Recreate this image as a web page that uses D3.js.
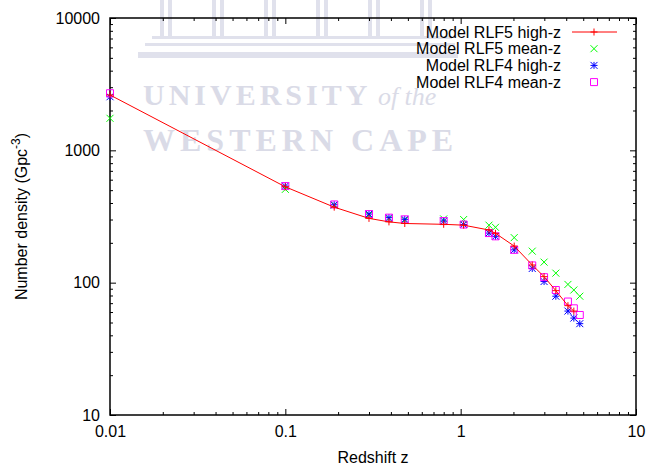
<!DOCTYPE html>
<html>
<head>
<meta charset="utf-8">
<script src="https://cdn.jsdelivr.net/npm/d3@7"></script>
<style>
  body { margin: 0; background: #fff; }
  svg { font-family: "Liberation Sans", Arial, sans-serif; }
</style>
</head>
<body>
<svg class="chart" width="648" height="467"></svg>
<script>
// redshift bins shared by all models
var zBins = [0.01, 0.1, 0.19, 0.30, 0.39, 0.48, 0.80, 1.04, 1.45, 1.58, 2.02, 2.56, 2.99, 3.49, 4.09, 4.42, 4.78];

// Number density (Gpc^-3)
var rlf5High = [2620, 530, 372, 306, 288, 280, 276, 272, 250, 236, 189, 136, 111, 87, 67, 61];
var rlf5Mean = [1746, 507, 385, 325, 305, 296, 303, 300, 272, 262, 219, 173, 143, 118, 97, 88, 79];
var rlf4High = [2540, 537, 388, 330, 310, 301, 292, 275, 237, 224, 177, 128, 102, 79, 61, 54, 49];
var rlf4Mean = [2700, 537, 390, 330, 310, 301, 292, 275, 237, 224, 177, 135, 110, 88, 72, 64, 57];

var legendLabels = ["Model RLF5 high-z", "Model RLF5 mean-z", "Model RLF4 high-z", "Model RLF4 mean-z"];
var xTickLabels = ["0.01", "0.1", "1", "10"];
var yTickLabels = ["10", "100", "1000", "10000"];

var svg = d3.select(".chart"),
    margin = {top: 18, right: 12, bottom: 52, left: 110},
    width = +svg.attr("width") - margin.left - margin.right,
    height = +svg.attr("height") - margin.top - margin.bottom;

// faint university watermark behind the plot
var wm = svg.append("g").attr("fill", "#e0e1ec");
[160, 212, 264, 316, 368, 420].forEach(function(cx) {
  wm.append("rect").attr("x", cx).attr("y", 0).attr("width", 4).attr("height", 36);
  wm.append("rect").attr("x", cx + 8).attr("y", 0).attr("width", 4).attr("height", 36);
});
wm.append("rect").attr("x", 152).attr("y", 36).attr("width", 300).attr("height", 3);
wm.append("rect").attr("x", 145).attr("y", 43).attr("width", 310).attr("height", 3);
wm.append("rect").attr("x", 138).attr("y", 52).attr("width", 320).attr("height", 6);
svg.append("text")
    .attr("x", 143).attr("y", 105)
    .attr("fill", "#dadbe7")
    .style("font-family", "'Liberation Serif', 'DejaVu Serif', serif")
    .style("font-weight", "bold")
    .style("font-size", "30px")
    .style("letter-spacing", "4px")
    .text("UNIVERSITY")
  .append("tspan")
    .style("font-style", "italic")
    .style("font-weight", "normal")
    .style("font-size", "26px")
    .style("letter-spacing", "0px")
    .text(" of the");
svg.append("text")
    .attr("x", 143).attr("y", 151)
    .attr("fill", "#dadbe7")
    .style("font-family", "'Liberation Serif', 'DejaVu Serif', serif")
    .style("font-weight", "bold")
    .style("font-size", "32px")
    .style("letter-spacing", "5px")
    .text("WESTERN CAPE");

var g = svg.append("g").attr("transform", "translate(" + margin.left + "," + margin.top + ")");

var x = d3.scaleLog().domain([0.01, 10]).range([0, width]);
var y = d3.scaleLog().domain([10, 10000]).range([height, 0]);

var xMajor = [0.01, 0.1, 1, 10];
var yMajor = [10, 100, 1000, 10000];
function minors(major) {
  var out = [];
  major.slice(0, -1).forEach(function(m) {
    for (var k = 2; k <= 9; k++) out.push(m * k);
  });
  return out;
}

function styleAxis(sel) {
  sel.select(".domain").remove();
  sel.selectAll("line").attr("stroke", "#000");
  sel.selectAll("text").style("font-size", "16px").attr("fill", "#000");
}

// bottom & left with labels, ticks pointing inward
g.append("g")
    .attr("transform", "translate(0," + height + ")")
    .call(d3.axisBottom(x).tickValues(xMajor).tickSize(-6).tickPadding(11)
      .tickFormat(function(d, i) { return xTickLabels[i]; }))
    .call(styleAxis);
g.append("g")
    .attr("transform", "translate(0," + height + ")")
    .call(d3.axisBottom(x).tickValues(minors(xMajor)).tickSize(-3).tickFormat(""))
    .call(styleAxis);
g.append("g")
    .call(d3.axisLeft(y).tickValues(yMajor).tickSize(-6).tickPadding(10)
      .tickFormat(function(d, i) { return yTickLabels[i]; }))
    .call(styleAxis);
g.append("g")
    .call(d3.axisLeft(y).tickValues(minors(yMajor)).tickSize(-3).tickFormat(""))
    .call(styleAxis);
// mirrored top & right
g.append("g")
    .call(d3.axisTop(x).tickValues(xMajor).tickSize(-6).tickFormat(""))
    .call(styleAxis);
g.append("g")
    .call(d3.axisTop(x).tickValues(minors(xMajor)).tickSize(-3).tickFormat(""))
    .call(styleAxis);
g.append("g")
    .attr("transform", "translate(" + width + ",0)")
    .call(d3.axisRight(y).tickValues(yMajor).tickSize(-6).tickFormat(""))
    .call(styleAxis);
g.append("g")
    .attr("transform", "translate(" + width + ",0)")
    .call(d3.axisRight(y).tickValues(minors(yMajor)).tickSize(-3).tickFormat(""))
    .call(styleAxis);

g.append("rect")
    .attr("width", width).attr("height", height)
    .attr("fill", "none").attr("stroke", "#000").attr("stroke-width", 1.5);

// axis titles
svg.append("text")
    .attr("x", margin.left + width / 2).attr("y", 463)
    .attr("text-anchor", "middle")
    .style("font-size", "16px")
    .text("Redshift z");
var yt = svg.append("text")
    .attr("transform", "translate(27," + (margin.top + height / 2) + ") rotate(-90)")
    .attr("text-anchor", "middle")
    .style("font-size", "16px");
yt.append("tspan").text("Number density (Gpc");
yt.append("tspan").attr("dy", "-7").style("font-size", "12px").text("-3");
yt.append("tspan").attr("dy", "7").text(")");

// point shapes, gnuplot style
var S = 3.5;
var shapes = {
  plus: "M" + (-S) + ",0h" + (2 * S) + "M0," + (-S) + "v" + (2 * S),
  cross: "M" + (-S) + "," + (-S) + "l" + (2 * S) + "," + (2 * S) + "M" + (-S) + "," + S + "l" + (2 * S) + "," + (-2 * S),
  square: "M" + (-S) + "," + (-S) + "h" + (2 * S) + "v" + (2 * S) + "h" + (-2 * S) + "Z"
};
shapes.star = shapes.plus + shapes.cross;

function pairs(vals) {
  return vals.map(function(v, i) { return {z: zBins[i], n: v}; });
}

function drawPoints(data, shape, color) {
  g.append("g").selectAll("path")
    .data(data)
    .enter().append("path")
      .attr("transform", function(d) { return "translate(" + x(d.z) + "," + y(d.n) + ")"; })
      .attr("d", shapes[shape])
      .attr("fill", "none")
      .attr("stroke", color)
      .attr("stroke-width", 1);
}

var line = d3.line()
    .x(function(d) { return x(d.z); })
    .y(function(d) { return y(d.n); });

drawPoints(pairs(rlf5Mean), "cross", "#00ff00");
drawPoints(pairs(rlf4High), "star", "#0000ff");
drawPoints(pairs(rlf4Mean), "square", "#ff00ff");

g.append("path")
    .datum(pairs(rlf5High))
    .attr("fill", "none")
    .attr("stroke", "#ff0000")
    .attr("stroke-width", 1)
    .attr("d", line);
drawPoints(pairs(rlf5High), "plus", "#ff0000");

// legend
var legendColors = ["#ff0000", "#00ff00", "#0000ff", "#ff00ff"];
var legendShapes = ["plus", "cross", "star", "square"];
var lg = svg.append("g");
legendLabels.forEach(function(lab, i) {
  var ly = 32 + i * 16.7;
  lg.append("text")
      .attr("x", 561).attr("y", ly).attr("dy", "0.35em")
      .attr("text-anchor", "end")
      .style("font-size", "16px")
      .text(lab);
  if (i === 0) {
    lg.append("line")
        .attr("x1", 572).attr("x2", 617).attr("y1", ly).attr("y2", ly)
        .attr("stroke", legendColors[i]);
  }
  lg.append("path")
      .attr("transform", "translate(594," + ly + ")")
      .attr("d", shapes[legendShapes[i]])
      .attr("fill", "none")
      .attr("stroke", legendColors[i]);
});
</script>
</body>
</html>
